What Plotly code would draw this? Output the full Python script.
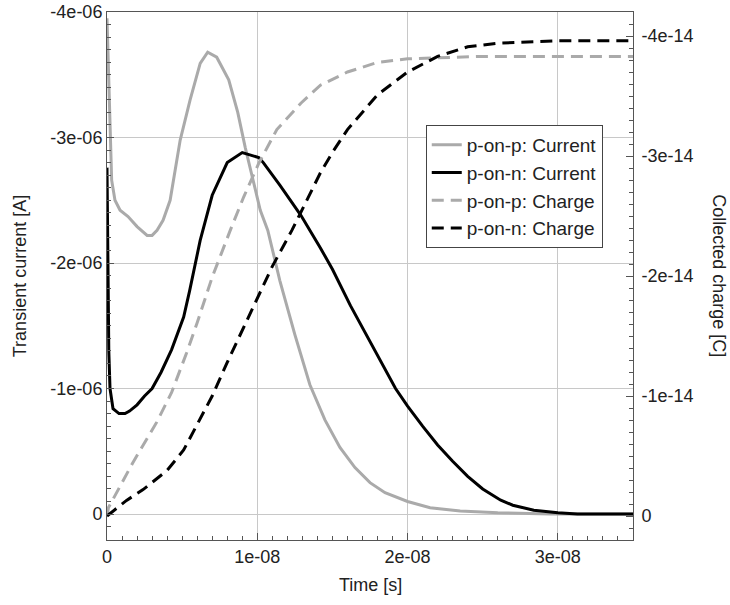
import plotly.graph_objects as go

# ---- data (time in ns, current in uA, charge in 1e-14 C) ----
t_pp_cur = [0, 0.2, 0.31, 0.53, 0.87, 1.4, 2.0, 2.67, 3.0, 3.33, 3.73, 4.2, 4.87, 5.53,
            6.2, 6.7, 7.3, 8.1, 8.7, 9.2, 9.7, 10.2, 10.7, 11.5, 12.5, 13.5, 14.5, 15.5,
            16.5, 17.5, 18.5, 20, 21.5, 23.5, 26, 29.5, 35]
i_pp_cur = [-3.95, -3.03, -2.66, -2.5, -2.42, -2.37, -2.29, -2.22, -2.22, -2.26, -2.34, -2.5,
            -2.98, -3.3, -3.59, -3.68, -3.64, -3.46, -3.2, -2.92, -2.66, -2.42, -2.26, -1.86,
            -1.43, -1.03, -0.75, -0.53, -0.37, -0.25, -0.17, -0.1, -0.05, -0.025, -0.01, 0, 0]

t_pn_cur = [0, 0.05, 0.12, 0.2, 0.4, 0.8, 1.2, 1.5, 2.0, 2.5, 3.0, 3.6, 4.3, 5.1, 5.5, 6.2,
            7.0, 8.0, 9.0, 10.1, 10.4, 11.5, 12.9, 14.2, 15, 16.2, 17.5, 19.2, 20, 21, 22, 23,
            24, 25, 26.2, 27, 28.4, 30, 31.3, 35]
i_pn_cur = [-2.76, -1.9, -1.3, -1.0, -0.84, -0.80, -0.80, -0.82, -0.87, -0.94, -1.0, -1.13,
            -1.31, -1.57, -1.78, -2.18, -2.54, -2.80, -2.88, -2.84, -2.80, -2.62, -2.38, -2.12,
            -1.95, -1.66, -1.37, -1.0, -0.86, -0.70, -0.55, -0.42, -0.30, -0.20, -0.11, -0.07,
            -0.03, -0.01, 0, 0]

t_pp_chg = [0, 0.1, 1.7, 3.3, 4.3, 5.3, 6.0, 7.0, 8.2, 9.1, 10.1, 11.3, 12.9, 14.2, 16, 18,
            20, 22, 25, 35]
q_pp_chg = [0, -0.07, -0.44, -0.78, -1.03, -1.36, -1.61, -1.99, -2.38, -2.66, -2.94, -3.22,
            -3.44, -3.59, -3.70, -3.78, -3.81, -3.82, -3.83, -3.83]

t_pn_chg = [0, 1.3, 2.4, 4.0, 5.1, 6.1, 7, 8, 9, 10, 11, 12.3, 12.9, 14.2, 15, 16, 18, 20,
            22, 24, 26, 28, 30, 35]
q_pn_chg = [0, -0.13, -0.22, -0.38, -0.55, -0.78, -1.0, -1.28, -1.55, -1.82, -2.08, -2.38,
            -2.53, -2.86, -3.03, -3.22, -3.51, -3.70, -3.83, -3.91, -3.94, -3.95, -3.96, -3.96]

x_tickvals = [0, 1e-08, 2e-08, 3e-08]
x_ticktext = ["0", "1e-08", "2e-08", "3e-08"]
y_tickvals = [0, -1e-06, -2e-06, -3e-06, -4e-06]
y_ticktext = ["0", "-1e-06", "-2e-06", "-3e-06", "-4e-06"]
y2_tickvals = [0, -1e-14, -2e-14, -3e-14, -4e-14]
y2_ticktext = ["0", "-1e-14", "-2e-14", "-3e-14", "-4e-14"]

names = ["p-on-p: Current", "p-on-n: Current", "p-on-p: Charge", "p-on-n: Charge"]

GREY = "#aaaaaa"
BLACK = "#000000"
AX = "#555555"
FONT = "Liberation Sans, Arial, sans-serif"
FS = 18

fig = go.Figure()
series = [
    (t_pp_cur, i_pp_cur, 1e-6, "y", GREY, "solid"),
    (t_pn_cur, i_pn_cur, 1e-6, "y", BLACK, "solid"),
    (t_pp_chg, q_pp_chg, 1e-14, "y2", GREY, "12px,7px"),
    (t_pn_chg, q_pn_chg, 1e-14, "y2", BLACK, "12px,7px"),
]
for k, (tt, vv, sc, ya, col, dash) in enumerate(series):
    fig.add_trace(go.Scatter(
        x=[v * 1e-9 for v in tt], y=[v * sc for v in vv], yaxis=ya, mode="lines",
        name=names[k], legendgroup=str(k),
        line=dict(color=col, width=3, dash=dash),
    ))

fig.update_layout(
    template="none",
    width=730, height=605,
    margin=dict(l=107, r=97, t=12, b=65, autoexpand=False),
    paper_bgcolor="white", plot_bgcolor="white",
    font=dict(family=FONT, size=FS, color="#222222"),
    showlegend=True,
    legend=dict(x=0.606, y=0.786, xanchor="left", yanchor="top",
                bgcolor="white", bordercolor="#444444", borderwidth=1,
                font=dict(family=FONT, size=19, color="#222222"),
                tracegroupgap=0),
    xaxis=dict(range=[0, 3.5e-08], tickmode="array", tickvals=x_tickvals, ticktext=x_ticktext,
               automargin=False,
               showgrid=True, gridcolor="#c8c8c8", gridwidth=1, zeroline=False,
               showline=True, linecolor=AX, linewidth=1, mirror=True,
               ticks="inside", ticklen=7, tickcolor=AX,
               minor=dict(tick0=0, dtick=1e-09, ticks="inside", ticklen=4, tickcolor=AX,
                          showgrid=False)),
    yaxis=dict(range=[2.07e-07, -4.0e-06], tickmode="array", tickvals=y_tickvals,
               ticktext=y_ticktext, automargin=False,
               showgrid=True, gridcolor="#c8c8c8", gridwidth=1, zeroline=False,
               showline=True, linecolor=AX, linewidth=1,
               ticks="inside", ticklen=7, tickcolor=AX,
               minor=dict(tick0=0, dtick=1e-07, ticks="inside", ticklen=4, tickcolor=AX,
                          showgrid=False)),
    yaxis2=dict(range=[0.2e-14, -4.2e-14], overlaying="y", side="right",
                tickmode="array", tickvals=y2_tickvals, ticktext=y2_ticktext,
                automargin=False, ticklabelstandoff=4,
                showgrid=False, zeroline=False,
                showline=True, linecolor=AX, linewidth=1,
                ticks="inside", ticklen=7, tickcolor=AX,
                minor=dict(tick0=0, dtick=1e-15, ticks="inside", ticklen=4, tickcolor=AX,
                           showgrid=False)),
    annotations=[
        dict(text="Time [s]", xref="paper", yref="paper", x=0.5, y=-0.085,
             xanchor="center", yanchor="middle", showarrow=False,
             font=dict(family=FONT, size=FS, color="#222222")),
        dict(text="Transient current [A]", xref="paper", yref="paper", x=-0.165, y=0.5,
             xanchor="center", yanchor="middle", textangle=-90, showarrow=False,
             font=dict(family=FONT, size=FS, color="#222222")),
        dict(text="Collected charge [C]", xref="paper", yref="paper", x=1.163, y=0.5,
             xanchor="center", yanchor="middle", textangle=90, showarrow=False,
             font=dict(family=FONT, size=FS, color="#222222")),
    ],
)

fig.write_html("out.html", config={"displayModeBar": False},
               post_script="document.body.style.margin='0';")
